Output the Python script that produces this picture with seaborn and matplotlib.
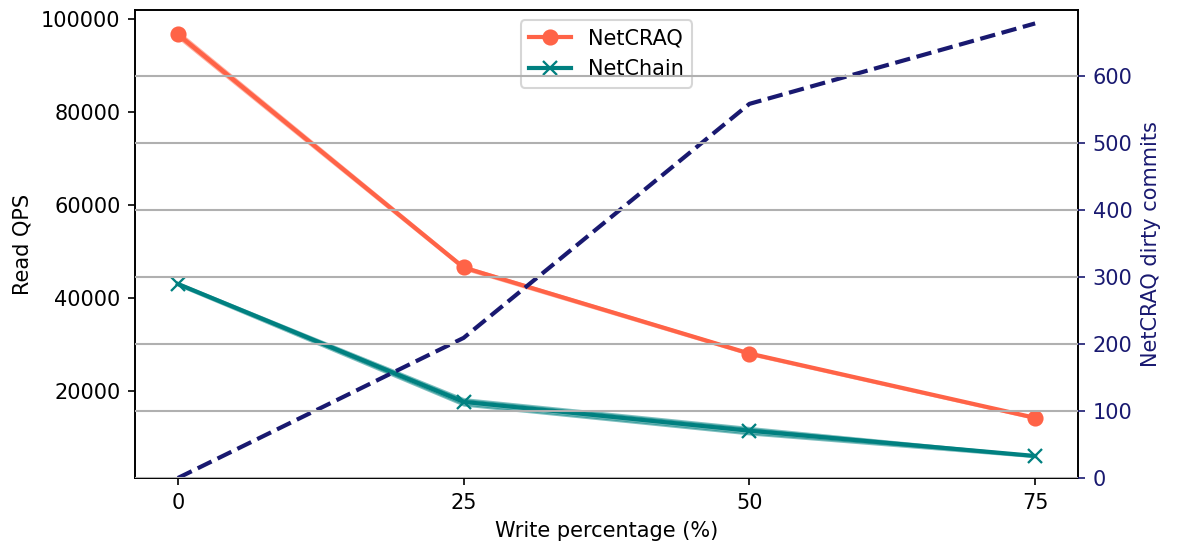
import matplotlib
matplotlib.use("Agg")
import matplotlib.pyplot as plt
import seaborn as sns
import pandas as pd

# Write percentage on the x axis
write_pct = [0, 25, 50, 75]

# Read QPS, three runs per write percentage
netcraq_runs = [
    [96000, 96600, 97300],
    [46200, 46500, 46800],
    [27800, 28000, 28200],
    [14000, 14200, 14300],
]
netchain_runs = [
    [42700, 43000, 43200],
    [16900, 17600, 18300],
    [10700, 11400, 12100],
    [5800, 6000, 6100],
]

# Dirty commits observed with NetCRAQ
dirty_commits = [0, 209, 558, 678]

c_craq = "#ff6347"
c_chain = "#008080"
c_dirty = "#191970"


def runs_frame(runs):
    rows = []
    for x, vals in zip(write_pct, runs):
        for v in vals:
            rows.append({"write": x, "qps": v})
    return pd.DataFrame(rows)


df_craq = runs_frame(netcraq_runs)
df_chain = runs_frame(netchain_runs)
df_dirty = pd.DataFrame({"write": write_pct, "dirty": dirty_commits})

plt.rcParams["font.family"] = ["DejaVu Sans"]
plt.rcParams["font.size"] = 10

fig, ax = plt.subplots(figsize=(1178 / 150, 547 / 150), dpi=150)
fig.subplots_adjust(left=0.1146, right=0.9151, top=0.9817, bottom=0.1261)

sns.lineplot(data=df_craq, x="write", y="qps", ax=ax, color=c_craq,
             marker="o", markersize=7, markeredgecolor=c_craq, linewidth=2,
             errorbar=("pi", 100), err_kws={"alpha": 0.5}, label="NetCRAQ")
sns.lineplot(data=df_chain, x="write", y="qps", ax=ax, color=c_chain,
             marker="x", markersize=7, markeredgecolor=c_chain,
             markeredgewidth=1.1, linewidth=2,
             errorbar=("pi", 100), err_kws={"alpha": 0.5}, label="NetChain")

ax.set_xlabel("Write percentage (%)")
ax.set_ylabel("Read QPS")
ax.set_xticks(write_pct)
ax.set_yticks([20000, 40000, 60000, 80000, 100000])
ax.legend(loc="upper center")

ax2 = ax.twinx()
sns.lineplot(data=df_dirty, x="write", y="dirty", ax=ax2, color=c_dirty,
             linestyle="--", linewidth=2, legend=False)
ax2.set_ylim(0, 698)
ax2.set_ylabel("NetCRAQ dirty commits", color=c_dirty)
ax2.tick_params(axis="y", colors=c_dirty)
ax2.grid(axis="y", color="#b0b0b0", linewidth=1)
ax2.set_axisbelow(False)

fig.savefig("out.png", dpi=150)
